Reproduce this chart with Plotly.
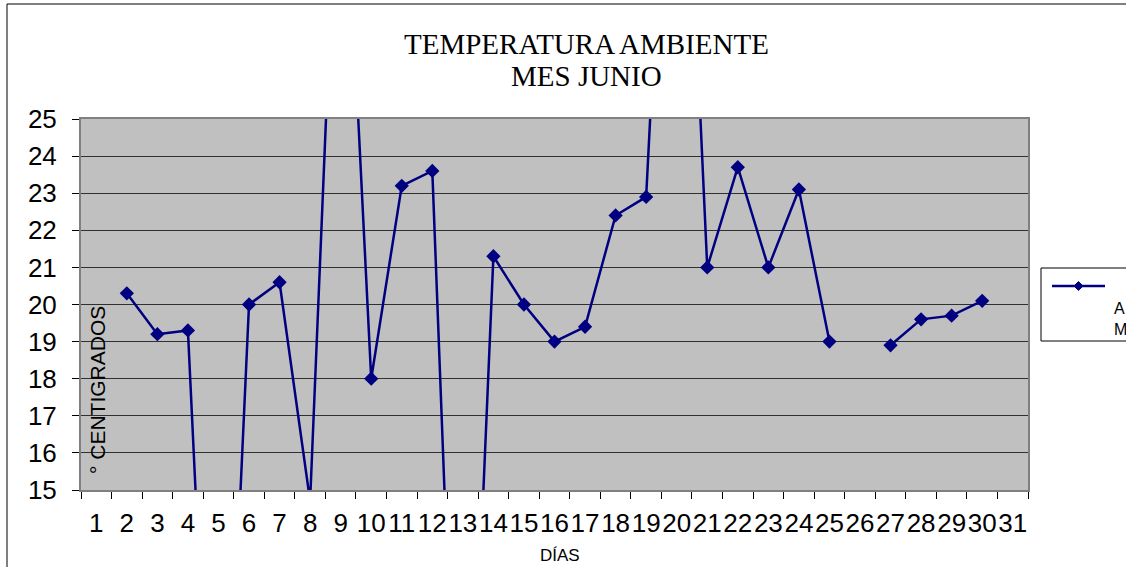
import plotly.graph_objects as go

# Daily ambient temperature, June (°C); None = no reading
days = [str(d) for d in range(1, 32)]
temps = [None, 20.3, 19.2, 19.3, 2.0, 20.0, 20.6, 14.7, 34.5, 18.0,
         23.2, 23.6, 2.0, 21.3, 20.0, 19.0, 19.4, 22.4, 22.9, 39.0,
         21.0, 23.7, 21.0, 23.1, 19.0, None, 18.9, 19.6, 19.7, 20.1, None]
y_ticks = list(range(15, 26))

title_lines = ["TEMPERATURA AMBIENTE", "MES JUNIO"]
y_title = "° CENTIGRADOS"
x_title = "DÍAS"
legend_lines = ["A", "M"]

W, H = 1126, 567
L, R, T, B = 81, 98, 119, 77
PW, PH = W - L - R, H - T - B
NAVY = "#000080"


def px(x):
    return (x - L) / PW


def py(y):
    return (H - B - y) / PH


fig = go.Figure()
fig.add_trace(go.Scatter(
    x=days, y=temps, mode="lines+markers",
    line=dict(color=NAVY, width=2.5),
    marker=dict(symbol="diamond", size=11, color=NAVY),
    connectgaps=False, cliponaxis=True, showlegend=False,
))

shapes = [
    # outer chart frame
    dict(type="rect", xref="paper", yref="paper",
         x0=px(7), x1=px(W + 20), y0=py(H + 20), y1=py(4),
         line=dict(color="black", width=1), layer="below"),
    # legend box
    dict(type="rect", xref="paper", yref="paper",
         x0=px(1041), x1=px(W + 20), y0=py(341), y1=py(268),
         line=dict(color="black", width=1), fillcolor="white"),
    dict(type="line", xref="paper", yref="paper",
         x0=px(1052), x1=px(1105), y0=py(286), y1=py(286),
         line=dict(color=NAVY, width=2.5)),
    dict(type="path", xref="paper", yref="paper",
         path="M {a},{c} L {b},{d} L {e},{c} L {b},{f} Z".format(
             a=px(1074), b=px(1078.5), e=px(1083), c=py(286), d=py(281.5), f=py(290.5)),
         fillcolor=NAVY, line=dict(color=NAVY, width=1)),
]

title_font = dict(family="Liberation Serif", size=29, color="black")
annotations = [
    dict(text=title_lines[0], xref="paper", yref="paper",
         x=px(586), y=py(44), xanchor="center", yanchor="middle", showarrow=False,
         font=title_font),
    dict(text=title_lines[1], xref="paper", yref="paper",
         x=px(586), y=py(76), xanchor="center", yanchor="middle", showarrow=False,
         font=title_font),
    dict(text=y_title, xref="paper", yref="paper", textangle=-90,
         x=px(97), y=py(390), xanchor="center", yanchor="middle", showarrow=False,
         font=dict(family="Liberation Sans", size=21, color="black")),
    dict(text=x_title, xref="paper", yref="paper",
         x=px(560), y=py(555), xanchor="center", yanchor="middle", showarrow=False,
         font=dict(family="Liberation Sans", size=17, color="black")),
    dict(text="<br>".join(legend_lines), xref="paper", yref="paper",
         x=px(1112), y=py(319), xanchor="left", yanchor="middle", showarrow=False,
         align="left", font=dict(family="Liberation Sans", size=16, color="black")),
]

fig.update_layout(
    width=W, height=H,
    margin=dict(l=L, r=R, t=T, b=B, pad=0),
    paper_bgcolor="white", plot_bgcolor="#C0C0C0",
    shapes=shapes, annotations=annotations,
    font=dict(family="Liberation Sans", color="black"),
)
fig.update_xaxes(
    type="category", categoryorder="array", categoryarray=days,
    tickmode="array", tickvals=days, ticktext=days, tickangle=0,
    tickson="boundaries", ticks="outside", ticklen=7, tickcolor="black", tickwidth=1,
    ticklabelstandoff=9,
    showgrid=False, showline=True, linecolor="#808080", linewidth=2, mirror=True,
    tickfont=dict(family="Liberation Sans", size=26, color="black"),
    range=[-0.5, 30.5], zeroline=False,
)
fig.update_yaxes(
    range=[15, 25], tickmode="array", tickvals=y_ticks,
    ticks="outside", ticklen=7, tickcolor="black", tickwidth=1,
    ticklabelstandoff=10,
    showgrid=True, gridcolor="#303030", gridwidth=1.2,
    showline=True, linecolor="#808080", linewidth=2, mirror=True,
    tickfont=dict(family="Liberation Sans", size=26, color="black"),
    zeroline=False,
)

fig.write_html("out.html")
